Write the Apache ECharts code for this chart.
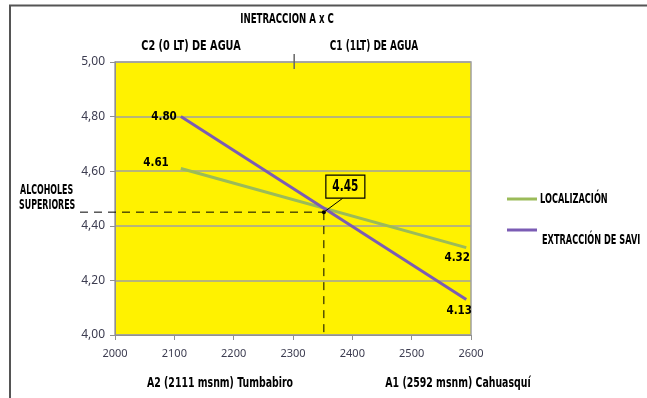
<!DOCTYPE html>
<html>
<head>
<meta charset="utf-8">
<script src="https://cdn.jsdelivr.net/npm/echarts@6/dist/echarts.min.js"></script>
<style>
  html, body { margin: 0; padding: 0; background: #fff; }
  #chart { width: 647px; height: 398px; }
</style>
</head>
<body>
<div id="chart"></div>
<script>
// Altitude of each locality (msnm) on the x axis
const altitudes = [2111, 2592];
// Higher alcohols for each factor level
const localizacion = [4.61, 4.32];
const extraccion = [4.80, 4.13];
// Crossing point of both factors
const crossAltitude = 2352;
const crossValue = 4.45;

const seriesNames = ['LOCALIZACIÓN', 'EXTRACCIÓN DE SAVI'];
const chartTitle = 'INETRACCION A x C';
const levelLabels = ['C2 (0 LT) DE AGUA', 'C1 (1LT) DE AGUA'];
const siteLabels = ['A2 (2111 msnm) Tumbabiro', 'A1 (2592 msnm) Cahuasquí'];
const yName = ['ALCOHOLES', 'SUPERIORES'];

const NARROW = "'Liberation Sans Narrow', 'DejaVu Sans Condensed', 'Liberation Sans', sans-serif";
const TICKFONT = "'Noto Sans', 'Liberation Sans', sans-serif";
const GREEN = '#9bbb59';
const PURPLE = '#7b5cb4';
const COLORS = [GREEN, PURPLE];

const chart = echarts.init(document.getElementById('chart'));

function pairs(xs, ys) { return xs.map((x, i) => [x, ys[i]]); }

const labelBase = { show: true, color: '#000', fontFamily: NARROW, fontWeight: 'bold', fontSize: 11.5,
  formatter: p => p.value[1].toFixed(2) };

function withLabels(data, first, last) {
  return data.map((d, i) => ({ value: d, label: Object.assign({}, labelBase, i === 0 ? first : last) }));
}

// condensed bold caption, stretched vertically like the chart's display face
const boldText = (text, x, y, size, align, sx) => ({
  type: 'text', x, y, z: 20, scaleX: sx || 0.85, scaleY: 1.2,
  style: { text, fontFamily: NARROW, fontWeight: 'bold', fontSize: size, fill: '#000',
    align: align || 'left', verticalAlign: 'middle' }
});

chart.setOption({
  animation: false,
  backgroundColor: '#fff',
  grid: { left: 115, right: 176, top: 62, bottom: 63, show: true,
    backgroundColor: '#fff200', borderColor: '#a0a0a0', borderWidth: 1.5 },
  xAxis: {
    type: 'value', min: 2000, max: 2600, interval: 100,
    axisLine: { lineStyle: { color: '#909090', width: 1 } },
    axisTick: { show: true, length: 5, lineStyle: { color: '#909090' } },
    splitLine: { show: false },
    axisLabel: { color: '#3c3c50', fontFamily: TICKFONT, fontSize: 11, margin: 13,
      formatter: v => String(v) }
  },
  yAxis: {
    type: 'value', min: 4, max: 5, interval: 0.2,
    axisLine: { show: true, lineStyle: { color: '#909090', width: 1 } },
    axisTick: { show: true, length: 5, lineStyle: { color: '#909090' } },
    splitLine: { lineStyle: { color: '#a0a0a0', width: 1.5 } },
    axisLabel: { color: '#3c3c50', fontFamily: TICKFONT, fontSize: 12, margin: 10,
      formatter: v => v.toFixed(2).replace('.', ',') }
  },
  series: [
    {
      name: seriesNames[0], type: 'line', symbol: 'circle', symbolSize: 0.1, showSymbol: true, z: 3,
      lineStyle: { color: GREEN, width: 3 }, itemStyle: { color: GREEN },
      data: withLabels(pairs(altitudes, localizacion),
        { position: 'left', distance: 12, offset: [0, -5] },
        { position: 'bottom', distance: 4, offset: [-9, 0] })
    },
    {
      name: seriesNames[1], type: 'line', symbol: 'circle', symbolSize: 0.1, showSymbol: true, z: 4,
      lineStyle: { color: PURPLE, width: 3 }, itemStyle: { color: PURPLE },
      data: withLabels(pairs(altitudes, extraccion),
        { position: 'left', distance: 4 },
        { position: 'bottom', distance: 5, offset: [-7, 0] })
    }
  ]
});

// Crossing point, its dashed guides and boxed value
const p = chart.convertToPixel({ gridIndex: 0 }, [crossAltitude, crossValue]);
const base = chart.convertToPixel({ gridIndex: 0 }, [crossAltitude, 4]);
const topTick = chart.convertToPixel({ gridIndex: 0 }, [2302, 5]);
const dash = { stroke: '#000', lineWidth: 1, lineDash: [8, 6] };
const bx = p[0] + 2, by = p[1] - 37, bw = 39, bh = 23;

// Legend keys: a short line in the series colour followed by its name
const legendRows = [{ lineY: 199, textX: 540, textY: 199 }, { lineY: 230, textX: 542, textY: 240 }];
const legendItems = [];
seriesNames.forEach((name, i) => {
  const r = legendRows[i];
  legendItems.push({ type: 'line', z: 20, shape: { x1: 507, y1: r.lineY, x2: 537, y2: r.lineY },
    style: { stroke: COLORS[i], lineWidth: 3 } });
  legendItems.push(boldText(name, r.textX, r.textY, 12, 'left', 0.76));
});

chart.setOption({
  graphic: [
    boldText(chartTitle, 287, 19, 12, 'center', 0.8),
    boldText(levelLabels[0], 191, 46, 12, 'center', 0.9),
    boldText(levelLabels[1], 374, 46, 12, 'center', 0.83),
    boldText(siteLabels[0], 220, 383, 12, 'center', 0.87),
    boldText(siteLabels[1], 458, 383, 12, 'center', 0.87),
    boldText(yName[0], 20, 191, 11, 'left', 0.8),
    boldText(yName[1], 19, 206, 11, 'left', 0.8),
    // outer frame
    { type: 'polyline', z: 1, shape: { points: [[10, 398], [10, 5.5], [647, 5.5]] },
      style: { stroke: '#555', lineWidth: 2, fill: null } },
    // divider between water levels
    { type: 'line', z: 20, shape: { x1: topTick[0], y1: topTick[1] - 8, x2: topTick[0], y2: topTick[1] + 7 },
      style: { stroke: '#666', lineWidth: 1.5 } },
    { type: 'line', z: 10, shape: { x1: 80, y1: p[1], x2: p[0], y2: p[1] }, style: dash },
    { type: 'line', z: 10, shape: { x1: p[0], y1: p[1], x2: base[0], y2: base[1] }, style: dash },
    { type: 'circle', z: 12, shape: { cx: p[0], cy: p[1], r: 2 }, style: { fill: '#000' } },
    { type: 'line', z: 12, shape: { x1: p[0], y1: p[1], x2: bx + 17, y2: by + bh }, style: { stroke: '#000', lineWidth: 1 } },
    { type: 'rect', z: 12, shape: { x: bx, y: by, width: bw, height: bh },
      style: { fill: '#fff200', stroke: '#000', lineWidth: 1.2 } },
    { type: 'text', z: 13, x: bx + bw / 2, y: by + bh / 2, scaleX: 0.9, scaleY: 1.15,
      style: { text: crossValue.toFixed(2), fontFamily: NARROW, fontWeight: 'bold', fontSize: 13,
        fill: '#000', align: 'center', verticalAlign: 'middle' } }
  ].concat(legendItems)
});
</script>
</body>
</html>
